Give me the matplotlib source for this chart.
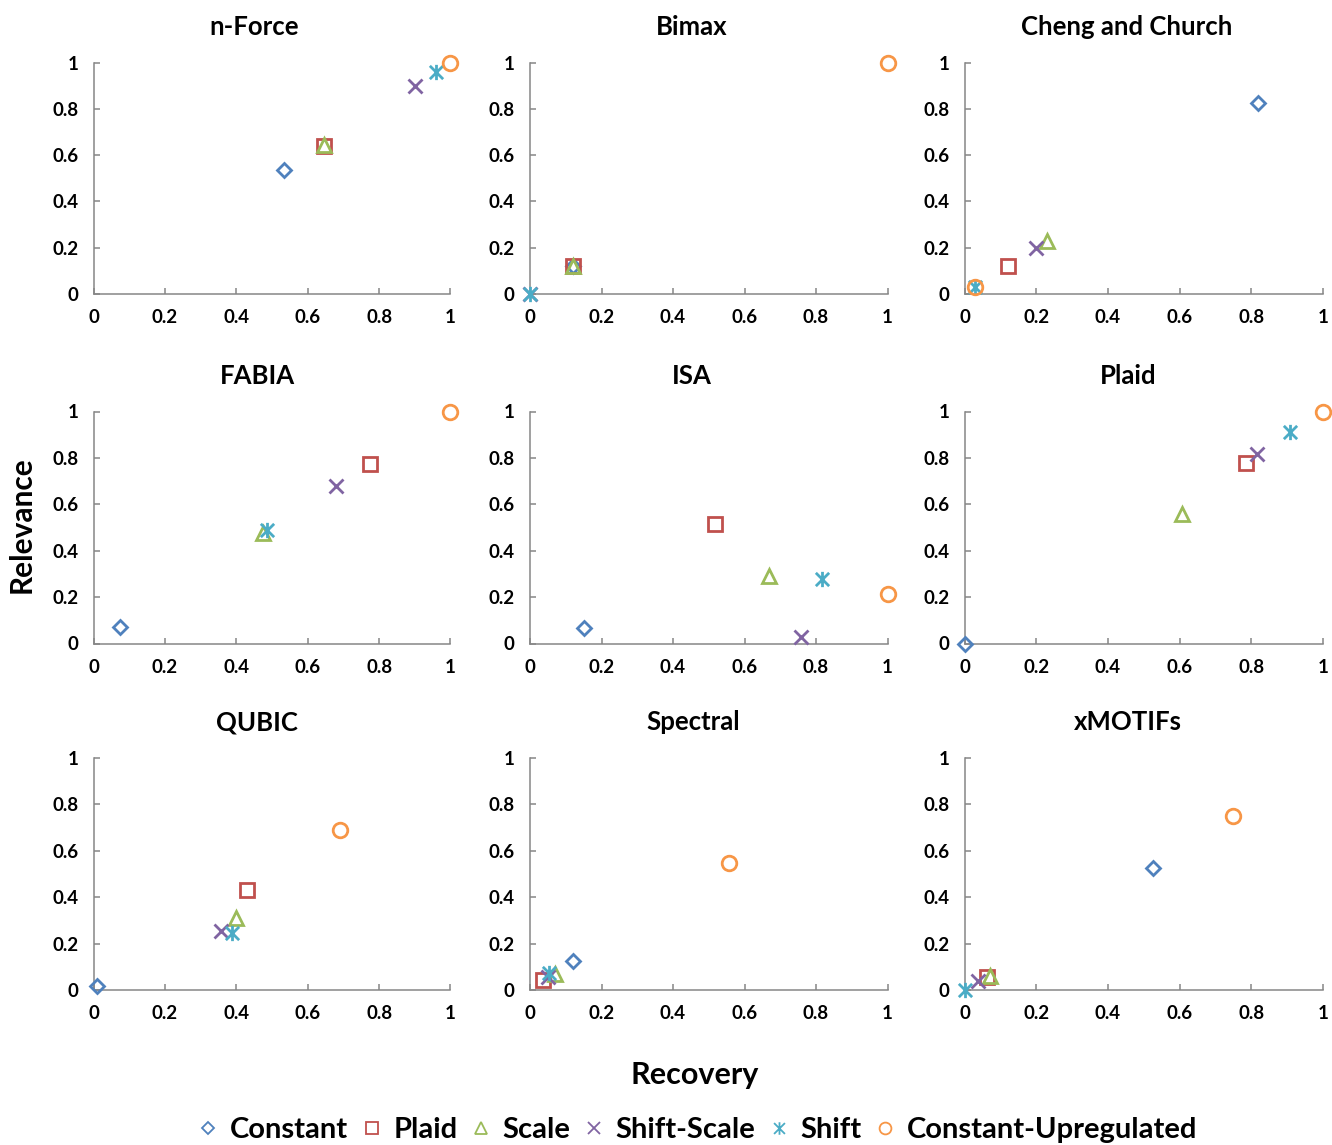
import matplotlib
matplotlib.use("Agg")
import matplotlib.pyplot as plt
from matplotlib.path import Path
from matplotlib.lines import Line2D

plt.rcParams['font.family'] = ['Lato', 'DejaVu Sans']
plt.rcParams['font.weight'] = 'bold'

# Bicluster types and their styling
patterns = ["Constant", "Plaid", "Scale", "Shift-Scale", "Shift", "Constant-Upregulated"]
colors = ["#4F81BD", "#C0504D", "#9BBB59", "#8064A2", "#4BACC6", "#F79646"]

# asterisk marker: an x with a vertical stroke
star = Path([(-1, -1), (1, 1), (-1, 1), (1, -1), (0, -1.15), (0, 1.15)],
            [Path.MOVETO, Path.LINETO, Path.MOVETO, Path.LINETO, Path.MOVETO, Path.LINETO])
markers = ["D", "s", "^", "x", star, "o"]
msizes = [7.5, 10.5, 10.5, 10, 11, 10.5]

# Recovery / relevance per algorithm, in the order of `patterns`
algorithms = ["n-Force", "Bimax", "Cheng and Church",
              "FABIA", "ISA", "Plaid",
              "QUBIC", "Spectral", "xMOTIFs"]

nforce_rec = [0.535, 0.645, 0.645, 0.90, 0.96, 1.0]
nforce_rel = [0.535, 0.64, 0.645, 0.90, 0.96, 1.0]

bimax_rec = [0.12, 0.12, 0.12, 0.0, 0.0, 1.0]
bimax_rel = [0.12, 0.12, 0.12, 0.0, 0.0, 1.0]

cc_rec = [0.82, 0.12, 0.23, 0.20, 0.03, 0.03]
cc_rel = [0.825, 0.12, 0.23, 0.20, 0.03, 0.03]

fabia_rec = [0.073, 0.775, 0.476, 0.68, 0.486, 1.0]
fabia_rel = [0.072, 0.775, 0.475, 0.68, 0.49, 1.0]

isa_rec = [0.15, 0.518, 0.668, 0.757, 0.816, 1.0]
isa_rel = [0.066, 0.516, 0.29, 0.026, 0.278, 0.212]

plaid_rec = [0.0, 0.785, 0.607, 0.816, 0.909, 1.0]
plaid_rel = [0.0, 0.78, 0.56, 0.818, 0.911, 1.0]

qubic_rec = [0.01, 0.43, 0.40, 0.358, 0.388, 0.69]
qubic_rel = [0.016, 0.431, 0.31, 0.256, 0.244, 0.69]

spectral_rec = [0.12, 0.035, 0.07, 0.05, 0.052, 0.556]
spectral_rel = [0.125, 0.045, 0.07, 0.055, 0.075, 0.548]

xmotifs_rec = [0.526, 0.063, 0.072, 0.037, 0.0, 0.749]
xmotifs_rel = [0.524, 0.058, 0.06, 0.039, 0.0, 0.752]

recovery = [nforce_rec, bimax_rec, cc_rec, fabia_rec, isa_rec, plaid_rec,
            qubic_rec, spectral_rec, xmotifs_rec]
relevance = [nforce_rel, bimax_rel, cc_rel, fabia_rel, isa_rel, plaid_rel,
             qubic_rel, spectral_rel, xmotifs_rel]

ticks = [0, 0.2, 0.4, 0.6, 0.8, 1]
tick_labels = ["0", "0.2", "0.4", "0.6", "0.8", "1"]

W, H = 1332, 1145
fig = plt.figure(figsize=(W / 100, H / 100), dpi=100)

col_x0 = [93.5, 530, 964.5]
col_x1 = [450.5, 887.5, 1323]
row_top = [62.5, 411.5, 758]
row_bot = [294, 643.5, 990]
title_x = [[254, 692, 1127], [257, 692, 1128], [257, 693, 1128]]
title_y = [27, 376, 722]

spine_color = "#868686"

for i, name in enumerate(algorithms):
    r, c = divmod(i, 3)
    left = col_x0[c] / W
    bottom = 1 - row_bot[r] / H
    width = (col_x1[c] - col_x0[c]) / W
    height = (row_bot[r] - row_top[r]) / H
    ax = fig.add_axes([left, bottom, width, height])
    ax.set_xlim(0, 1)
    ax.set_ylim(0, 1)
    for s in ["top", "right"]:
        ax.spines[s].set_visible(False)
    for s in ["left", "bottom"]:
        ax.spines[s].set_color(spine_color)
        ax.spines[s].set_linewidth(1.1)
    ax.set_xticks(ticks)
    ax.set_yticks(ticks)
    ax.set_xticklabels(tick_labels)
    ax.set_yticklabels(tick_labels)
    ax.tick_params(direction="in", length=4.5, width=1.1, color=spine_color,
                   labelsize=13.5, pad=11)
    for lab in ax.get_xticklabels() + ax.get_yticklabels():
        lab.set_fontweight("bold")

    for k in range(len(patterns)):
        ax.plot(recovery[i][k], relevance[i][k], linestyle="none",
                marker=markers[k], markersize=msizes[k],
                markerfacecolor="none", markeredgecolor=colors[k],
                markeredgewidth=2.0, clip_on=False, zorder=5)

    fig.text(title_x[r][c] / W, 1 - title_y[r] / H, name, ha="center",
             va="center", fontsize=18.5, fontweight="bold")

fig.text(22 / W, 1 - 525 / H, "Relevance", rotation=90, ha="center",
         va="center", fontsize=21.5, fontweight="bold")
fig.text(695 / W, 1 - 1075 / H, "Recovery", ha="center", va="center",
         fontsize=22, fontweight="bold")

handles = [Line2D([], [], linestyle="none", marker=markers[k],
                  markersize=[6, 8, 8, 8, 9, 8.5][k],
                  markerfacecolor="none", markeredgecolor=colors[k],
                  markeredgewidth=1.3)
           for k in range(len(patterns))]
leg = fig.legend(handles, patterns, loc="center", ncol=6,
                 bbox_to_anchor=(697 / W, 1 - 1130 / H), frameon=False,
                 handlelength=0.8, handletextpad=0.35, columnspacing=0.4,
                 prop={"size": 21, "weight": "bold"})

fig.savefig("out.png", dpi=100)
